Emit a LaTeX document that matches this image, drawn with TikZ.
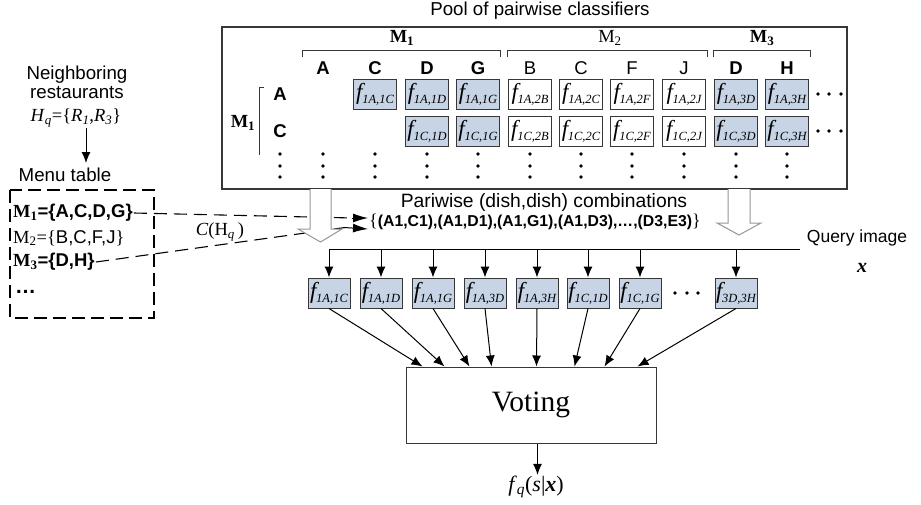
\documentclass[tikz,border=0pt]{standalone}
\usepackage{fontspec}
\setmainfont{Liberation Serif}
\setsansfont{Liberation Sans}
\usetikzlibrary{arrows.meta,calc}
\definecolor{cellblue}{RGB}{198,212,229}
\definecolor{edgegray}{RGB}{55,55,55}
\definecolor{hollowgray}{RGB}{150,150,150}
\newcommand{\fcl}[1]{{\itshape f\kern-0.3pt\raisebox{-4pt}{\fontsize{12.5}{12.5}\selectfont #1}}}
\tikzset{
  cell/.style={draw=edgegray, line width=1pt, minimum width=43pt, minimum height=30pt, inner sep=0pt, font=\fontsize{23}{23}\selectfont},
  bcell/.style={cell, fill=cellblue},
  wcell/.style={cell, fill=white},
  hdrb/.style={font=\sffamily\bfseries\fontsize{18.5}{18}\selectfont, inner sep=0pt},
  hdrn/.style={font=\sffamily\fontsize{18.5}{18}\selectfont, inner sep=0pt},
  lbl/.style={font=\sffamily\fontsize{18.7}{22}\selectfont, align=center, inner sep=0pt},
  mlbl/.style={font=\rmfamily\fontsize{18.5}{18}\selectfont, inner sep=0pt},
  arr/.style={-{Latex[length=11pt,width=9pt]}, line width=1pt},
  bigarr/.style={-{Latex[length=15pt,width=9pt]}, line width=1pt},
  dashline/.style={line width=1.1pt, dash pattern=on 13pt off 7pt},
  hollow/.style={draw=hollowgray, fill=white, line width=1pt},
  brk/.style={line width=1pt, draw=edgegray},
  menu/.style={font=\fontsize{18.5}{20}\selectfont, anchor=west, inner sep=1pt}
}
\begin{document}
\begin{tikzpicture}[x=1pt,y=-1pt]
\useasboundingbox (0,0) rectangle (921,504);

% ---------- pool of classifiers ----------
\node[lbl] (pooltitle) at (540,11) {Pool of pairwise classifiers};
\node[draw=edgegray, line width=1.2pt, minimum width=625pt, minimum height=162pt, inner sep=0pt] (pool) at (534.5,108) {};

% column group brackets
\draw[brk] (302,57) -- (302,50) -- (500,50) -- (500,57);
\draw[brk] (507,57) -- (507,50) -- (707,50) -- (707,57);
\draw[brk] (713,57) -- (713,50) -- (810,50) -- (810,57);
\node[mlbl, font=\rmfamily\bfseries\fontsize{18.5}{18}\selectfont] (gm1) at (402,38) {M\textsubscript{1}};
\node[mlbl] (gm2) at (610,38) {M\textsubscript{2}};
\node[mlbl, font=\rmfamily\bfseries\fontsize{18.5}{18}\selectfont] (gm3) at (762,38) {M\textsubscript{3}};

% column headers
\node[hdrb] (hA) at (323,68) {A};
\node[hdrb] (hC) at (375,68) {C};
\node[hdrb] (hD) at (427,68) {D};
\node[hdrb] (hG) at (478,68) {G};
\node[hdrn] (hB2) at (530,68) {B};
\node[hdrn] (hC2) at (581,68) {C};
\node[hdrn] (hF2) at (632,68) {F};
\node[hdrn] (hJ2) at (684,68) {J};
\node[hdrb] (hD3) at (736,68) {D};
\node[hdrb] (hH3) at (787,68) {H};

% row labels
\draw[brk] (264,87) -- (259,87) -- (259,155);
\node[mlbl, font=\rmfamily\bfseries\fontsize{18.5}{18}\selectfont] (rm1) at (243,123) {M\textsubscript{1}};
\node[hdrb] (rA) at (280,94) {A};
\node[hdrb] (rC) at (280,131) {C};

% cells row A
\node[bcell] (cA1) at (375,94) {\fcl{1A,1C}};
\node[bcell] (cA2) at (427,94) {\fcl{1A,1D}};
\node[bcell] (cA3) at (478,94) {\fcl{1A,1G}};
\node[wcell] (cA4) at (530,94) {\fcl{1A,2B}};
\node[wcell] (cA5) at (581,94) {\fcl{1A,2C}};
\node[wcell] (cA6) at (632,94) {\fcl{1A,2F}};
\node[wcell] (cA7) at (684,94) {\fcl{1A,2J}};
\node[bcell] (cA8) at (736,94) {\fcl{1A,3D}};
\node[bcell] (cA9) at (787,94) {\fcl{1A,3H}};
% cells row C
\node[bcell] (cC2) at (427,131) {\fcl{1C,1D}};
\node[bcell] (cC3) at (478,131) {\fcl{1C,1G}};
\node[wcell] (cC4) at (530,131) {\fcl{1C,2B}};
\node[wcell] (cC5) at (581,131) {\fcl{1C,2C}};
\node[wcell] (cC6) at (632,131) {\fcl{1C,2F}};
\node[wcell] (cC7) at (684,131) {\fcl{1C,2J}};
\node[bcell] (cC8) at (736,131) {\fcl{1C,3D}};
\node[bcell] (cC9) at (787,131) {\fcl{1C,3H}};

% vertical dots
\foreach \x in {280,323,375,427,478,530,581,632,684,736,787}
  \foreach \y in {154,166,177} \fill (\x,\y) circle (1.8pt);
% horizontal dots
\foreach \y in {94,131}
  \foreach \x in {818,829,841} \fill (\x,\y) circle (1.8pt);

% ---------- left side ----------
\node[lbl] (neigh) at (77,82) {Neighboring\\[-3pt]restaurants};
\node[font=\rmfamily\fontsize{18.5}{18}\selectfont, inner sep=1pt] (hq) at (76,118)
  {\textit{H}\textsubscript{\textit{q}}=\{\textit{R}\textsubscript{\textit{1}},\textit{R}\textsubscript{\textit{3}}\}};
\node[lbl] (menut) at (65,175) {Menu table};
\draw[arr] (86,128) -- (86,163);
\draw[line width=1.9pt, dash pattern=on 13pt off 6pt] (10,190) rectangle (154,318);
\node[menu] (m1) at (12,213) {{\rmfamily\bfseries M\textsubscript{1}}{\sffamily\bfseries =\{A,C,D,G\}}};
\node[menu] (m2) at (12,238) {{\rmfamily M\textsubscript{2}=\{}{\sffamily B,C,F,J}{\rmfamily\}}};
\node[menu] (m3) at (12,262) {{\rmfamily\bfseries M\textsubscript{3}}{\sffamily\bfseries =\{D,H\}}};
\node[menu, font=\sffamily\bfseries\fontsize{21}{20}\selectfont] (m4) at (14,292) {\dots};

% ---------- combinations ----------
\node[lbl, font=\sffamily\fontsize{19.3}{20}\selectfont] (combt) at (544,203) {Pariwise (dish,dish) combinations};
\node[anchor=west, inner sep=0pt, font=\sffamily\bfseries\fontsize{15.8}{16}\selectfont] (set) at (369,222)
  {{\rmfamily\mdseries\fontsize{18}{18}\selectfont\{}(A1,C1),(A1,D1),(A1,G1),(A1,D3),\dots,(D3,E3){\rmfamily\mdseries\fontsize{18}{18}\selectfont\}}};
\node[font=\rmfamily\fontsize{18.5}{18}\selectfont, inner sep=0pt] (chq) at (220,232) {\textit{C}(H\textsubscript{\textit{q}}\,)};

\coordinate (tip1) at ([xshift=-1pt,yshift=4pt]set.west);
\coordinate (tip2) at ([xshift=-1pt,yshift=-7pt]set.west);
\draw[dashline] (m1.east) -- ([xshift=-15pt]tip1);
\draw[dashline] (m3.east) -- ([xshift=-23pt,yshift=1.5pt]tip2);

% hollow arrows
\draw[hollow] (310,189) -- (310,229) -- (298,229) -- (320.5,242) -- (342,229) -- (331,229) -- (331,189);
\draw[hollow] (728,189) -- (728,223) -- (717,223) -- (739,235) -- (761,223) -- (750,223) -- (750,189);

\draw[bigarr] ([xshift=-16pt]tip1) -- (tip1);
\draw[bigarr] ([xshift=-24pt,yshift=1.5pt]tip2) -- (tip2);

% ---------- query bus ----------
\node[lbl, font=\sffamily\fontsize{17.5}{18}\selectfont] (query) at (857,238) {Query image};
\node[font=\rmfamily\bfseries\itshape\fontsize{20}{20}\selectfont, inner sep=0pt] (qx) at (862,268) {x};
\coordinate (busL) at (330,249);
\coordinate (busR) at (800,249);

\node[bcell, minimum width=42pt] (b1) at (329,293) {\fcl{1A,1C}};
\node[bcell, minimum width=42pt] (b2) at (381,293) {\fcl{1A,1D}};
\node[bcell, minimum width=42pt] (b3) at (433,293) {\fcl{1A,1G}};
\node[bcell, minimum width=42pt] (b4) at (485,293) {\fcl{1A,3D}};
\node[bcell, minimum width=42pt] (b5) at (537,293) {\fcl{1A,3H}};
\node[bcell, minimum width=42pt] (b6) at (588,293) {\fcl{1C,1D}};
\node[bcell, minimum width=42pt] (b7) at (640,293) {\fcl{1C,1G}};
\node[bcell, minimum width=42pt] (b8) at (736,293) {\fcl{3D,3H}};
\foreach \x in {675,687,698} \fill (\x,293) circle (1.8pt);

\draw[line width=1pt] (busL) -- (busR);
\foreach \b in {b1,b2,b3,b4,b5,b6,b7,b8}
  \draw[arr] (\b.north |- busL) -- (\b.north);

% ---------- voting ----------
\node[draw=edgegray, line width=1pt, minimum width=250pt, minimum height=76pt, inner sep=0pt,
      font=\rmfamily\fontsize{29.5}{29}\selectfont] (vote) at (531,405) {Voting};
\draw[arr] (b1.south) -- ([xshift=17pt]vote.north west);
\draw[arr] (b2.south) -- ([xshift=39pt]vote.north west);
\draw[arr] (b3.south) -- ([xshift=64pt]vote.north west);
\draw[arr] (b4.south) -- ([xshift=86pt]vote.north west);
\draw[arr] (b5.south) -- ([xshift=131pt]vote.north west);
\draw[arr] (b6.south) -- ([xshift=169pt]vote.north west);
\draw[arr] (b7.south) -- ([xshift=199pt]vote.north west);
\draw[arr] (b8.south) -- ([xshift=232pt]vote.north west);

\node[font=\rmfamily\fontsize{22}{22}\selectfont, inner sep=1pt] (fq) at (536,487)
  {\textit{f}\textsubscript{\textit{q}}(\textit{s}|\textbf{\textit{x}})};
\coordinate (vout) at ([xshift=132pt]vote.south west);
\draw[arr] (vout) -- (vout |- fq.north);
\end{tikzpicture}
\end{document}
